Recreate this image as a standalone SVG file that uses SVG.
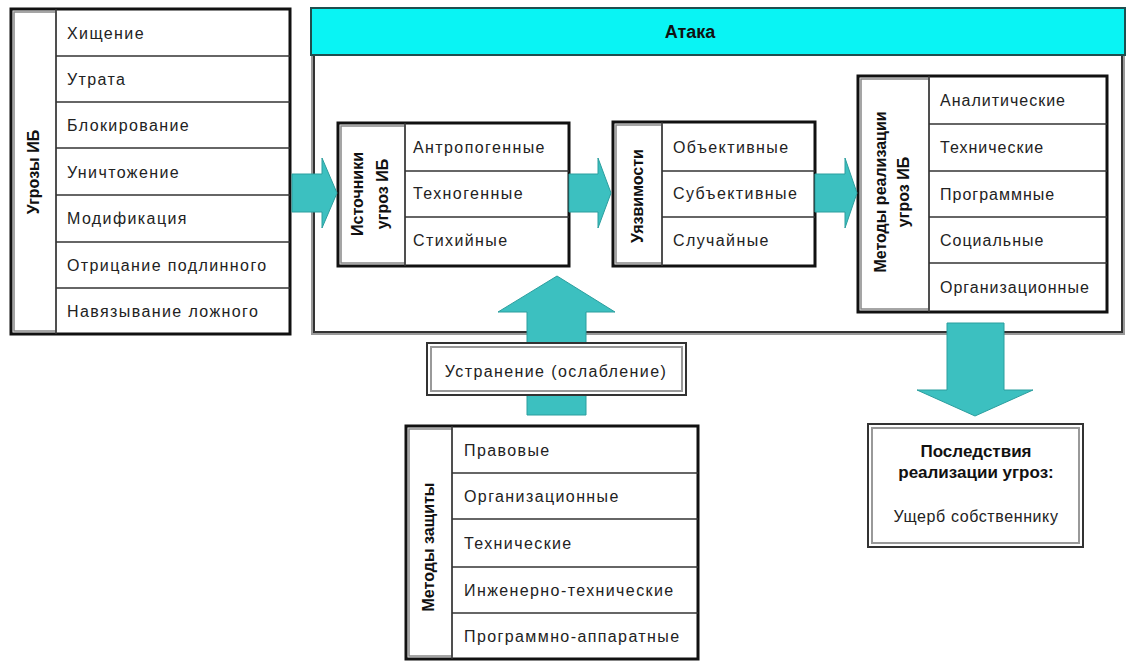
<svg xmlns="http://www.w3.org/2000/svg" width="1128" height="661" viewBox="0 0 1128 661">
<style>
.bg{fill:#fff}
.outer{fill:#fff;stroke:#111;stroke-width:3}
.hdr{fill:#fff;stroke:#888;stroke-width:1.5}
.sep{stroke:#333;stroke-width:1.5}
.vsep{stroke:#333;stroke-width:1.5}
.it{font-family:"Liberation Sans",Arial,sans-serif;font-size:16px;fill:#222;letter-spacing:1.4px}
.ht{font-family:"Liberation Sans",Arial,sans-serif;font-size:16px;font-weight:bold;fill:#111;text-anchor:middle}
.arr{fill:#3cc0c0;stroke:#2b9e9e;stroke-width:1}
.dbl1{stroke:#333;stroke-width:2}
.dbl2{fill:none;stroke:#999;stroke-width:2}
.wf{fill:#fff}
.nf{fill:none}
</style>
<rect class="bg" x="0" y="0" width="1128" height="661"/>

<!-- Attack container -->
<g id="attack">
  <rect x="312" y="55" width="812" height="279" class="dbl2"/>
  <rect x="314" y="55" width="808" height="277" class="dbl1 nf"/>
  <rect x="311" y="8" width="814" height="47" fill="#09f4f4" stroke="#1f4f4f" stroke-width="2"/>
  <text x="690" y="38" class="ht" style="font-size:18px">Атака</text>
</g>

<!-- Threats -->
<g id="threats">
  <rect x="11" y="9" width="279" height="325" class="outer"/>
  <rect x="14" y="12" width="42" height="319" class="hdr"/>
  <line x1="56" y1="9" x2="56" y2="334" class="vsep"/>
  <line x1="56" y1="56" x2="290" y2="56" class="sep"/>
  <line x1="56" y1="102" x2="290" y2="102" class="sep"/>
  <line x1="56" y1="148" x2="290" y2="148" class="sep"/>
  <line x1="56" y1="195" x2="290" y2="195" class="sep"/>
  <line x1="56" y1="242" x2="290" y2="242" class="sep"/>
  <line x1="56" y1="288" x2="290" y2="288" class="sep"/>
  <text transform="translate(39,172) rotate(-90)" class="ht">Угрозы ИБ</text>
  <text x="67" y="39" class="it">Хищение</text>
  <text x="67" y="85" class="it">Утрата</text>
  <text x="67" y="131" class="it">Блокирование</text>
  <text x="67" y="178" class="it">Уничтожение</text>
  <text x="67" y="224" class="it">Модификация</text>
  <text x="67" y="271" class="it">Отрицание подлинного</text>
  <text x="67" y="317" class="it">Навязывание ложного</text>
</g>

<!-- Sources -->
<g id="sources">
  <rect x="338" y="123" width="231" height="143" class="outer"/>
  <rect x="341" y="126" width="64" height="137" class="hdr"/>
  <line x1="405" y1="123" x2="405" y2="266" class="vsep"/>
  <line x1="405" y1="171" x2="569" y2="171" class="sep"/>
  <line x1="405" y1="217" x2="569" y2="217" class="sep"/>
  <text transform="translate(363,194) rotate(-90)" class="ht">Источники</text>
  <text transform="translate(388,194) rotate(-90)" class="ht">угроз ИБ</text>
  <text x="413" y="153" class="it">Антропогенные</text>
  <text x="413" y="199" class="it">Техногенные</text>
  <text x="413" y="246" class="it">Стихийные</text>
</g>

<!-- Vulnerabilities -->
<g id="vulns">
  <rect x="613" y="122" width="202" height="144" class="outer"/>
  <rect x="616" y="125" width="46" height="138" class="hdr"/>
  <line x1="662" y1="122" x2="662" y2="266" class="vsep"/>
  <line x1="662" y1="171" x2="815" y2="171" class="sep"/>
  <line x1="662" y1="217" x2="815" y2="217" class="sep"/>
  <text transform="translate(643,196) rotate(-90)" class="ht">Уязвимости</text>
  <text x="673" y="153" class="it">Объективные</text>
  <text x="673" y="199" class="it">Субъективные</text>
  <text x="673" y="246" class="it">Случайные</text>
</g>

<!-- Implementation methods -->
<g id="methods-impl">
  <rect x="858" y="76" width="249" height="236" class="outer"/>
  <rect x="861" y="79" width="68" height="230" class="hdr"/>
  <line x1="929" y1="76" x2="929" y2="312" class="vsep"/>
  <line x1="929" y1="124" x2="1107" y2="124" class="sep"/>
  <line x1="929" y1="171" x2="1107" y2="171" class="sep"/>
  <line x1="929" y1="217" x2="1107" y2="217" class="sep"/>
  <line x1="929" y1="263" x2="1107" y2="263" class="sep"/>
  <text transform="translate(886,192) rotate(-90)" class="ht">Методы реализации</text>
  <text transform="translate(909,192) rotate(-90)" class="ht">угроз ИБ</text>
  <text x="940" y="106" class="it" style="letter-spacing:1px">Аналитические</text>
  <text x="940" y="153" class="it" style="letter-spacing:1px">Технические</text>
  <text x="940" y="200" class="it" style="letter-spacing:1px">Программные</text>
  <text x="940" y="246" class="it" style="letter-spacing:1px">Социальные</text>
  <text x="940" y="293" class="it" style="letter-spacing:1px">Организационные</text>
</g>

<!-- Connectors -->
<g id="connectors">
  <polygon class="arr" points="292,174 322,174 322,158 337,193 322,228 322,212 292,212"/>
  <polygon class="arr" points="569,174 598,174 598,158 611,193 598,228 598,212 569,212"/>
  <polygon class="arr" points="815,174 845,174 845,158 857,193 845,228 845,212 815,212"/>
  <polygon class="arr" points="527,415 527,312 498,312 557,276 615,312 586,312 586,415"/>
  <polygon class="arr" points="947,323 1004,323 1004,390 1033,390 975,416 917,390 947,390"/>
</g>

<!-- Elimination -->
<g id="elimination">
  <rect x="427" y="343" width="259" height="52" class="dbl1 wf"/>
  <rect x="431" y="347" width="251" height="44" class="dbl2"/>
  <text x="556" y="377" class="it" text-anchor="middle">Устранение (ослабление)</text>
</g>

<!-- Protection methods -->
<g id="methods-protect">
  <rect x="406" y="426" width="292" height="233" class="outer"/>
  <rect x="409" y="429" width="43" height="227" class="hdr"/>
  <line x1="452" y1="426" x2="452" y2="659" class="vsep"/>
  <line x1="452" y1="473" x2="698" y2="473" class="sep"/>
  <line x1="452" y1="519" x2="698" y2="519" class="sep"/>
  <line x1="452" y1="567" x2="698" y2="567" class="sep"/>
  <line x1="452" y1="613" x2="698" y2="613" class="sep"/>
  <text transform="translate(434,547) rotate(-90)" class="ht">Методы защиты</text>
  <text x="464" y="456" class="it">Правовые</text>
  <text x="464" y="502" class="it">Организационные</text>
  <text x="464" y="549" class="it">Технические</text>
  <text x="464" y="596" class="it">Инженерно-технические</text>
  <text x="464" y="642" class="it">Программно-аппаратные</text>
</g>

<!-- Consequences -->
<g id="consequences">
  <rect x="868" y="424" width="215" height="123" class="dbl1 wf"/>
  <rect x="872" y="428" width="207" height="115" class="dbl2"/>
  <text x="976" y="457" class="ht" style="font-size:17px">Последствия</text>
  <text x="976" y="478" class="ht" style="font-size:17px">реализации угроз:</text>
  <text x="976" y="522" class="it" text-anchor="middle" style="letter-spacing:0.6px">Ущерб собственнику</text>
</g>
</svg>
